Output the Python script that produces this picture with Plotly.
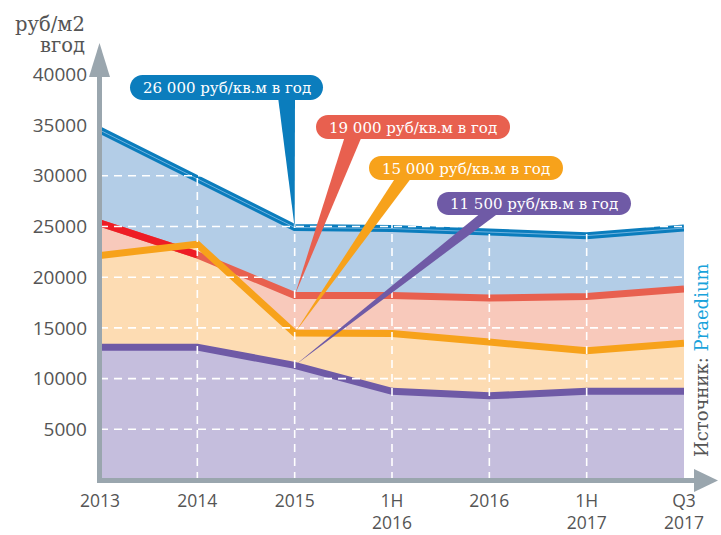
import plotly.graph_objects as go

# ---------------- data ----------------
categories = ["2013", "2014", "2015", "1H 2016", "2016", "1H 2017", "Q3 2017"]
tick_labels = ["2013", "2014", "2015", "1H<br>2016", "2016", "1H<br>2017", "Q3<br>2017"]
blue_vals = [34500, 29700, 24900, 24800, 24450, 24100, 24850]
red_vals = [25350, 22200, 18200, 18200, 17950, 18100, 18850]
orange_vals = [22150, 23250, 14500, 14450, 13600, 12750, 13500]
purple_vals = [13100, 13100, 11300, 8750, 8300, 8750, 8750]
y_ticks = [5000, 10000, 15000, 20000, 25000, 30000, 35000, 40000]
y_tick_text = ["5000", "10000", "15000", "20000", "25000", "30000", "35000", "40000"]
callout_texts = ["26 000 руб/кв.м в год", "19 000 руб/кв.м в год",
                 "15 000 руб/кв.м в год", "11 500 руб/кв.м в год"]
source_label = "Источник: "
source_name = "Praedium"
unit_line1 = "руб/м2"
unit_line2 = "вгод"

# ---------------- geometry helpers ----------------
W, H = 721, 535
L, R, T, B = 100, 684, 44, 480
XMAX = len(categories) - 1
YMAX = 43000
xs = list(range(len(categories)))


def px2x(px):
    return (px - L) / (R - L) * XMAX


def py2y(py):
    return (B - py) / (B - T) * YMAX


def px2p(px):
    return (px - L) / (R - L)


def py2p(py):
    return (B - py) / (B - T)


C_BLUE = "#0b7dbd"
C_RED = "#e8604f"
C_RED_BRIGHT = "#ee1c25"
C_ORANGE = "#f7a21b"
C_PURPLE = "#6f5aa6"
F_BLUE = "#b3cde7"
F_RED = "#f8c9bb"
F_ORANGE = "#fddcb3"
F_PURPLE = "#c5bedd"
AXIS = "#9aa6ae"
TXT = "#555555"

fig = go.Figure()

# fills
for vals, fc in [(blue_vals, F_BLUE), (red_vals, F_RED),
                 (orange_vals, F_ORANGE), (purple_vals, F_PURPLE)]:
    fig.add_trace(go.Scatter(x=xs, y=vals, mode="lines", fill="tozeroy",
                             fillcolor=fc, line=dict(width=0, color=fc),
                             hoverinfo="skip", showlegend=False))

# lines
fig.add_trace(go.Scatter(x=xs, y=blue_vals, mode="lines",
                         line=dict(width=7, color=C_BLUE), showlegend=False))
fig.add_trace(go.Scatter(x=xs, y=blue_vals, mode="lines",
                         line=dict(width=1.0, color="#6fb2df"), showlegend=False))
fig.add_trace(go.Scatter(x=xs, y=red_vals, mode="lines",
                         line=dict(width=7, color=C_RED), showlegend=False))
fig.add_trace(go.Scatter(x=xs[:2], y=red_vals[:2], mode="lines",
                         line=dict(width=7, color=C_RED_BRIGHT), showlegend=False))
fig.add_trace(go.Scatter(x=xs, y=orange_vals, mode="lines",
                         line=dict(width=7, color=C_ORANGE), showlegend=False))
fig.add_trace(go.Scatter(x=xs, y=purple_vals, mode="lines",
                         line=dict(width=7, color=C_PURPLE), showlegend=False))

shapes = []
# grid (drawn above the fills, like the reference)
for yv in y_ticks:
    shapes.append(dict(type="line", xref="x", yref="y", x0=0, x1=XMAX, y0=yv, y1=yv,
                       line=dict(color="white", width=1.6, dash="8px,6px"), layer="above"))
for xv in xs[1:-1]:
    shapes.append(dict(type="line", xref="x", yref="y", x0=xv, x1=xv, y0=0, y1=YMAX,
                       line=dict(color="white", width=1.6, dash="8px,6px"), layer="above"))


def rounded_box(x0, y0, x1, y1):
    r = (y1 - y0) / 2.0
    k = 0.5523 * r
    pts = [
        ("M", [(x0 + r, y0)]),
        ("L", [(x1 - r, y0)]),
        ("C", [(x1 - r + k, y0), (x1, y0 + r - k), (x1, y0 + r)]),
        ("C", [(x1, y0 + r + k), (x1 - r + k, y1), (x1 - r, y1)]),
        ("L", [(x0 + r, y1)]),
        ("C", [(x0 + r - k, y1), (x0, y1 - r + k), (x0, y1 - r)]),
        ("C", [(x0, y0 + r - k), (x0 + r - k, y0), (x0 + r, y0)]),
    ]
    s = ""
    for cmd, ps in pts:
        s += cmd + " " + " ".join(f"{px2x(px):.5f},{py2y(py):.3f}" for px, py in ps) + " "
    return s + "Z"


# callouts: (box x0, y0, x1, y1) in px, wedge base px (bx0, bx1), colour, series
callouts = [
    ((130, 75, 323, 100), (278, 295), C_BLUE, blue_vals),
    ((316, 115, 510, 139), (345, 362), C_RED, red_vals),
    ((369, 156, 563, 180), (396, 412), C_ORANGE, orange_vals),
    ((437, 192, 631, 215), (482, 500), C_PURPLE, purple_vals),
]
annotations = []
for (box, base, col, vals), text in zip(callouts, callout_texts):
    x0, y0, x1, y1 = box
    by = y1 - 3
    tipx, tipy = 2, vals[2]
    path = (f"M {px2x(base[0]):.5f},{py2y(by):.3f} L {px2x(base[1]):.5f},{py2y(by):.3f} "
            f"L {tipx},{tipy} Z")
    shapes.append(dict(type="path", xref="x", yref="y", path=path,
                       fillcolor=col, line=dict(width=0), layer="above"))
    shapes.append(dict(type="path", xref="x", yref="y", path=rounded_box(x0, y0, x1, y1),
                       fillcolor=col, line=dict(width=0), layer="above"))
    annotations.append(dict(xref="paper", yref="paper", x=px2p((x0 + x1) / 2),
                            y=py2p((y0 + y1) / 2 + 0.5), text=text, showarrow=False,
                            xanchor="center", yanchor="middle",
                            font=dict(family="DejaVu Serif", size=15, color="white")))

# axes with arrows
shapes.append(dict(type="line", xref="paper", yref="paper",
                   x0=px2p(97), x1=px2p(698), y0=py2p(480.5), y1=py2p(480.5),
                   line=dict(color=AXIS, width=5), layer="above"))
shapes.append(dict(type="line", xref="paper", yref="paper",
                   x0=px2p(99.5), x1=px2p(99.5), y0=py2p(483), y1=py2p(72),
                   line=dict(color=AXIS, width=5), layer="above"))
shapes.append(dict(type="path", xref="paper", yref="paper", layer="above",
                   path=f"M {px2p(99.5)},{py2p(43)} L {px2p(89)},{py2p(77)} L {px2p(110)},{py2p(77)} Z",
                   fillcolor=AXIS, line=dict(width=0)))
shapes.append(dict(type="path", xref="paper", yref="paper", layer="above",
                   path=f"M {px2p(718)},{py2p(480.5)} L {px2p(694)},{py2p(469)} L {px2p(694)},{py2p(492)} Z",
                   fillcolor=AXIS, line=dict(width=0)))

annotations.append(dict(xref="paper", yref="paper", x=px2p(87), y=py2p(24),
                        text=unit_line1, showarrow=False, xanchor="right", yanchor="middle",
                        font=dict(family="DejaVu Serif", size=19.5, color=TXT)))
annotations.append(dict(xref="paper", yref="paper", x=px2p(87), y=py2p(46),
                        text=unit_line2, showarrow=False, xanchor="right", yanchor="middle",
                        font=dict(family="DejaVu Serif", size=19.5, color=TXT)))
annotations.append(dict(xref="paper", yref="paper", x=px2p(701), y=py2p(360),
                        text=f"{source_label}<span style='color:#1aa3db'>{source_name}</span>",
                        showarrow=False, textangle=-90, xanchor="center", yanchor="middle",
                        font=dict(family="DejaVu Serif", size=18, color=TXT)))

fig.update_layout(
    width=W, height=H,
    margin=dict(l=L, r=W - R, t=T, b=H - B, autoexpand=False),
    paper_bgcolor="white", plot_bgcolor="white",
    shapes=shapes, annotations=annotations,
    xaxis=dict(range=[0, XMAX], tickvals=xs, ticktext=tick_labels, showgrid=False,
               zeroline=False, showline=False, ticks="", ticklabelstandoff=8,
               automargin=False,
               tickfont=dict(family="Open Sans", size=17.5, color=TXT), fixedrange=True),
    yaxis=dict(range=[0, YMAX], tickvals=y_ticks, ticktext=y_tick_text, showgrid=False,
               zeroline=False, showline=False, ticks="", ticklabelstandoff=12,
               automargin=False,
               tickfont=dict(family="Open Sans", size=19, color=TXT), fixedrange=True),
    showlegend=False,
)

fig.write_html("out.html", config={"displayModeBar": False},
               post_script="document.body.style.margin='0';document.body.style.overflow='hidden';")
